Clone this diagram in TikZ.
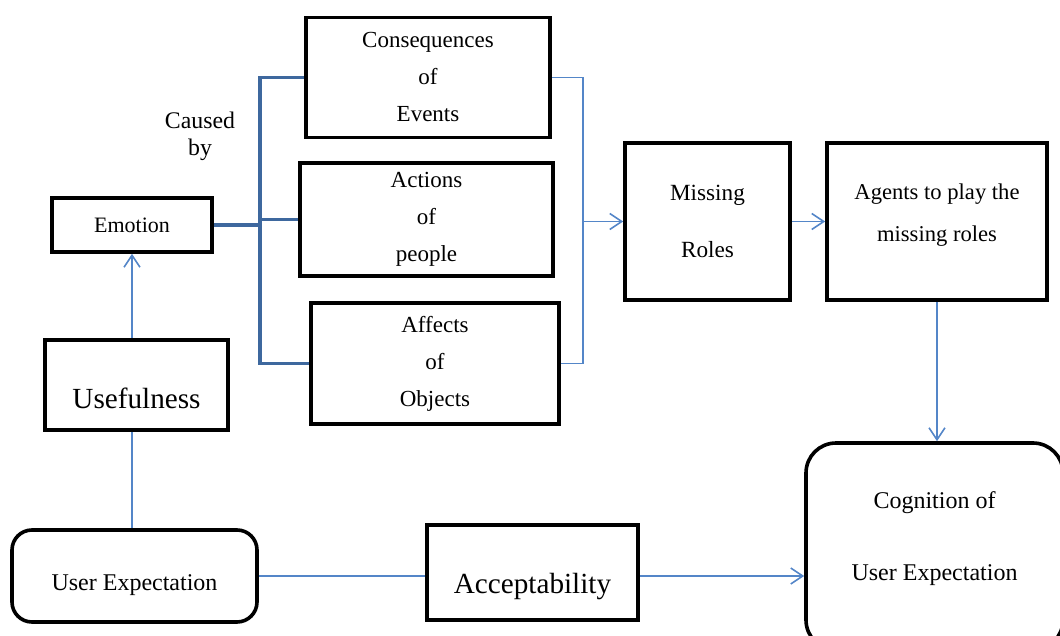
\documentclass[tikz,border=0pt]{standalone}
\usepackage{fontspec}
\setmainfont{Liberation Serif}
\usetikzlibrary{arrows.meta}
\definecolor{busblue}{RGB}{62,104,158}
\definecolor{linkblue}{RGB}{84,134,200}
\newcommand{\fsz}[2]{\fontsize{#1}{#2}\selectfont}
\newcommand{\padtop}[1]{\rule{0pt}{#1}}
\newcommand{\padbot}[1]{\rule[-#1]{0pt}{#1}}
\begin{document}
\begin{tikzpicture}[x=0.5pt,y=-0.5pt,
	every node/.style={draw,line width=1.8pt,align=center,inner sep=1pt,font=\fsz{11.5}{18.5}},
	bigbox/.style={line width=2.4pt,font=\fsz{14.6}{18}},
	rbox/.style={rounded corners=#1},
	bus/.style={draw=busblue,line width=1.6pt},
	link/.style={draw=linkblue,line width=0.8pt},
	>={Straight Barb[length=6pt,width=8pt]}]
\useasboundingbox (0,0) rectangle (1060,636);
\node[minimum width=80pt,minimum height=27pt,font=\fsz{11}{13}] (emo) at (132,225) {Emotion};
\node[draw=none,font=\fsz{11.9}{13.5}] (cause) at (200,136) {Caused\\by};
\node[minimum width=122pt,minimum height=60pt] (cons) at (428,77.5) {Consequences\\of\\Events};
\node[minimum width=126.5pt,minimum height=56.5pt] (act) at (426.5,219.5) {Actions\\of\\people};
\node[minimum width=124pt,minimum height=60.5pt] (aff) at (435,363.5) {Affects\\of\\Objects};
\node[minimum width=82.5pt,minimum height=78.5pt,font=\fsz{11.6}{28.5}] (miss) at (707.5,221.5) {Missing\\Roles};
\node[minimum width=110pt,minimum height=78.5pt,font=\fsz{11.3}{21}] (agt) at (937,221.5) {Agents to play the\\missing roles\padbot{8.5pt}};
\node[rbox=15pt,minimum width=128.5pt,minimum height=103.5pt,font=\fsz{12}{36}] (cog) at (934.5,546.5) {Cognition of\\User Expectation\padbot{10.6pt}};
\node[bigbox,minimum width=91.5pt,minimum height=45pt] (use) at (136.5,385) {\padtop{24pt}Usefulness};
\node[rbox=10pt,minimum width=122.5pt,minimum height=46pt,font=\fsz{12}{14}] (ue) at (134.5,576) {\padtop{17pt}User Expectation};
\node[bigbox,minimum width=105.5pt,minimum height=47.5pt] (acc) at (532.5,572.5) {\padtop{24pt}Acceptability};
\coordinate (bus) at (260,225);
\coordinate (merge) at (583,221.5);
\draw[bus] (emo.east) -- (bus);
\draw[bus] (cons.west) -| (bus) |- (aff.west);
\draw[bus] (bus |- act.west) -- (act.west);
\draw[link] (cons.east) -| (merge) |- (aff.east);
\draw[link,->] (merge) -- (miss.west);
\draw[link,->] (miss.east) -- (agt.west);
\draw[link,->] (agt.south) -- (agt.south |- cog.north);
\draw[link] (ue.north -| emo.south) -- (use.south -| emo.south);
\draw[link,->] (use.north -| emo.south) -- (emo.south);
\draw[link] (ue.east) -- (ue.east -| acc.west);
\draw[link,->] (ue.east -| acc.east) -- (ue.east -| cog.west);
\end{tikzpicture}
\end{document}
